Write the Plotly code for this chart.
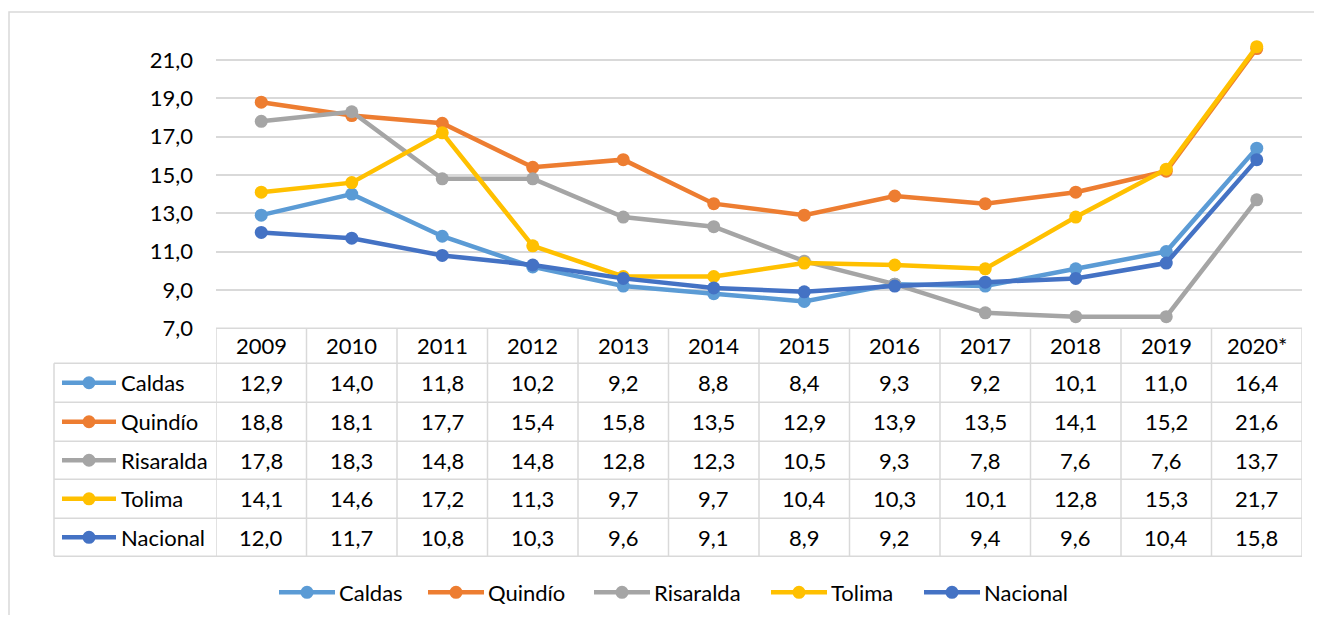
import plotly.graph_objects as go

OFF = 8  # page body margin of the browser
W, H = 1322 - 2 * OFF, 623 - 2 * OFF
KY = 0.978  # vertical compensation observed in the rendered page

years = ["2009", "2010", "2011", "2012", "2013", "2014", "2015", "2016", "2017", "2018", "2019", "2020*"]
caldas = [12.9, 14.0, 11.8, 10.2, 9.2, 8.8, 8.4, 9.3, 9.2, 10.1, 11.0, 16.4]
quindio = [18.8, 18.1, 17.7, 15.4, 15.8, 13.5, 12.9, 13.9, 13.5, 14.1, 15.2, 21.6]
risaralda = [17.8, 18.3, 14.8, 14.8, 12.8, 12.3, 10.5, 9.3, 7.8, 7.6, 7.6, 13.7]
tolima = [14.1, 14.6, 17.2, 11.3, 9.7, 9.7, 10.4, 10.3, 10.1, 12.8, 15.3, 21.7]
nacional = [12.0, 11.7, 10.8, 10.3, 9.6, 9.1, 8.9, 9.2, 9.4, 9.6, 10.4, 15.8]
y_ticks = [7, 9, 11, 13, 15, 17, 19, 21]

series_names = ["Caldas", "Quindío", "Risaralda", "Tolima", "Nacional"]
series_values = [caldas, quindio, risaralda, tolima, nacional]
colors = ["#5B9BD5", "#ED7D31", "#A5A5A5", "#FFC000", "#4472C4"]

FONT = "Lato"
FS = 22
GRID = "#D9D9D9"


def px(x):
    return (x - OFF) / W


def py(y):
    return 1 - (y - OFF) / (KY * H)


def fmt(v):
    return f"{v:.1f}".replace(".", ",")


# layout geometry (reference pixels)
plot_left, plot_right = 216, 1302
y_bottom_px, y_top_px = 328, 35
table_rows = [328, 363, 402, 441, 479, 518, 556]
label_left = 54

fig = go.Figure()
for name, vals, col in zip(series_names, series_values, colors):
    fig.add_trace(go.Scatter(
        x=list(range(len(years))), y=vals, name=name, mode="lines+markers",
        line=dict(color=col, width=4.5),
        marker=dict(color=col, size=13),
        cliponaxis=False, showlegend=False,
    ))

shapes = []
annotations = []

# outer chart border
shapes.append(dict(type="rect", xref="paper", yref="paper",
                   x0=px(9), x1=px(1340), y0=py(700), y1=py(12),
                   line=dict(color=GRID, width=1.5), fillcolor="rgba(0,0,0,0)", layer="below"))

# table horizontal lines
for i, yy in enumerate(table_rows):
    x0 = px(plot_left) if i == 0 else px(label_left)
    shapes.append(dict(type="line", xref="paper", yref="paper",
                       x0=x0, x1=px(plot_right), y0=py(yy), y1=py(yy),
                       line=dict(color=GRID, width=1.5)))
# table vertical lines (column boundaries on the x axis)
n = len(years)
for k in range(n + 1):
    shapes.append(dict(type="line", xref="x", yref="paper",
                       x0=k - 0.5, x1=k - 0.5, y0=py(table_rows[-1]), y1=py(table_rows[0]),
                       line=dict(color=GRID, width=1.5)))
shapes.append(dict(type="line", xref="paper", yref="paper",
                   x0=px(label_left), x1=px(label_left), y0=py(table_rows[-1]), y1=py(table_rows[1]),
                   line=dict(color=GRID, width=1.5)))

# header years
hdr_y = (table_rows[0] + table_rows[1]) / 2
for i, yr in enumerate(years):
    annotations.append(dict(x=i, y=py(hdr_y), xref="x", yref="paper", text=yr,
                            showarrow=False, font=dict(family=FONT, size=FS, color="#000"),
                            xanchor="center", yanchor="middle"))

# rows
for r, (name, vals, col) in enumerate(zip(series_names, series_values, colors)):
    cy = (table_rows[r + 1] + table_rows[r + 2]) / 2
    shapes.append(dict(type="line", xref="paper", yref="paper",
                       x0=px(62), x1=px(116), y0=py(cy), y1=py(cy),
                       line=dict(color=col, width=4.5)))
    shapes.append(dict(type="circle", xref="paper", yref="paper",
                       xsizemode="pixel", ysizemode="pixel",
                       xanchor=px(89), yanchor=py(cy), x0=-6.5, x1=6.5, y0=-6.5, y1=6.5,
                       fillcolor=col, line=dict(color=col, width=0)))
    annotations.append(dict(x=px(119), y=py(cy), xref="paper", yref="paper", text=name,
                            showarrow=False, font=dict(family=FONT, size=FS, color="#000"),
                            xanchor="left", yanchor="middle"))
    for i, v in enumerate(vals):
        annotations.append(dict(x=i, y=py(cy), xref="x", yref="paper", text=fmt(v),
                                showarrow=False, font=dict(family=FONT, size=FS, color="#000"),
                                xanchor="center", yanchor="middle"))

# bottom legend
leg_y = 592
leg_starts = [279, 428, 594, 771, 924]
for name, col, x0 in zip(series_names, colors, leg_starts):
    shapes.append(dict(type="line", xref="paper", yref="paper",
                       x0=px(x0), x1=px(x0 + 56), y0=py(leg_y), y1=py(leg_y),
                       line=dict(color=col, width=4.5)))
    shapes.append(dict(type="circle", xref="paper", yref="paper",
                       xsizemode="pixel", ysizemode="pixel",
                       xanchor=px(x0 + 28), yanchor=py(leg_y), x0=-6.5, x1=6.5, y0=-6.5, y1=6.5,
                       fillcolor=col, line=dict(color=col, width=0)))
    annotations.append(dict(x=px(x0 + 58), y=py(leg_y), xref="paper", yref="paper", text=name,
                            showarrow=False, font=dict(family=FONT, size=FS, color="#000"),
                            xanchor="left", yanchor="middle"))

y_max = 7 + (y_bottom_px - y_top_px) / ((y_bottom_px - 60) / 14)

fig.update_layout(
    width=W, height=H,
    margin=dict(l=0, r=0, t=0, b=0),
    paper_bgcolor="white", plot_bgcolor="white",
    separators=",.",
    showlegend=False,
    xaxis=dict(domain=[px(plot_left), px(plot_right)], type="linear",
               range=[-0.5, n - 0.5], showticklabels=False, showgrid=False,
               zeroline=False, showline=False, ticks=""),
    yaxis=dict(domain=[py(y_bottom_px), py(y_top_px)], range=[7, y_max],
               tickvals=y_ticks, tickformat=".1f", showgrid=True, gridcolor=GRID, gridwidth=1.5,
               zeroline=False, showline=False, ticks="", ticklabelstandoff=22,
               tickfont=dict(family=FONT, size=FS, color="#000")),
    shapes=shapes,
    annotations=annotations,
)

fig.write_html("out.html")
